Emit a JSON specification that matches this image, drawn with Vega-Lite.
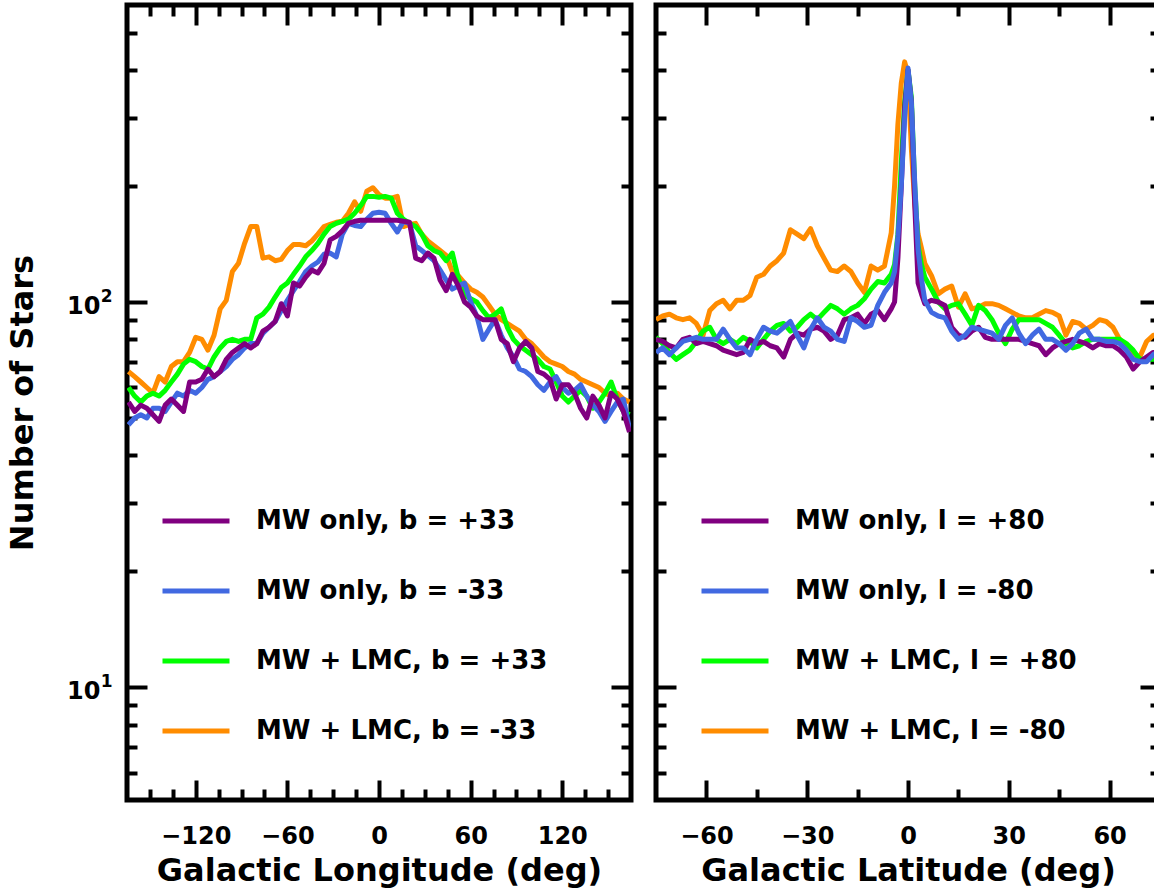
{
  "$schema": "https://vega.github.io/schema/vega-lite/v6.json",
  "background": "white",
  "padding": {"left": 4, "top": 0, "right": -8, "bottom": 0},
  "spacing": 14,
  "config": {
    "font": "DejaVu Sans",
    "view": {"stroke": "black", "strokeWidth": 5},
    "axis": {
      "domain": false, "grid": false,
      "labelFont": "DejaVu Sans", "labelFontWeight": "bold", "labelFontSize": 24, "labelColor": "black",
      "titleFont": "DejaVu Sans", "titleFontWeight": "bold", "titleFontSize": 32, "titleColor": "black",
      "tickColor": "black", "tickWidth": 4, "labelOverlap": false, "labelFlush": false
    },
    "legend": {
      "labelFont": "DejaVu Sans", "labelFontWeight": "bold", "labelFontSize": 26, "labelColor": "black",
      "symbolType": "stroke", "symbolSize": 4489, "symbolStrokeWidth": 5, "labelOffset": 24,
      "rowPadding": 21, "padding": 0, "labelLimit": 500
    }
  },
  "resolve": {"scale": {"color": "independent"}, "legend": {"color": "independent"}},
  "hconcat": [
    {
      "width": 504, "height": 795,
      "data": {"values": [
{"x":-164,"n":66,"s":"MW + LMC, b = -33"},{"x":-160,"n":64,"s":"MW + LMC, b = -33"},{"x":-156,"n":62,"s":"MW + LMC, b = -33"},{"x":-152,"n":60,"s":"MW + LMC, b = -33"},{"x":-148,"n":58,"s":"MW + LMC, b = -33"},{"x":-144,"n":64,"s":"MW + LMC, b = -33"},{"x":-140,"n":62,"s":"MW + LMC, b = -33"},{"x":-136,"n":68,"s":"MW + LMC, b = -33"},{"x":-132,"n":70,"s":"MW + LMC, b = -33"},{"x":-128,"n":70,"s":"MW + LMC, b = -33"},
{"x":-124,"n":74,"s":"MW + LMC, b = -33"},{"x":-120,"n":81,"s":"MW + LMC, b = -33"},{"x":-116,"n":80,"s":"MW + LMC, b = -33"},{"x":-112,"n":75,"s":"MW + LMC, b = -33"},{"x":-108,"n":82,"s":"MW + LMC, b = -33"},{"x":-104,"n":96,"s":"MW + LMC, b = -33"},{"x":-100,"n":101,"s":"MW + LMC, b = -33"},{"x":-96,"n":120,"s":"MW + LMC, b = -33"},{"x":-92,"n":126,"s":"MW + LMC, b = -33"},{"x":-88,"n":142,"s":"MW + LMC, b = -33"},
{"x":-84,"n":157,"s":"MW + LMC, b = -33"},{"x":-80,"n":157,"s":"MW + LMC, b = -33"},{"x":-76,"n":130,"s":"MW + LMC, b = -33"},{"x":-72,"n":131,"s":"MW + LMC, b = -33"},{"x":-68,"n":128,"s":"MW + LMC, b = -33"},{"x":-64,"n":129,"s":"MW + LMC, b = -33"},{"x":-60,"n":136,"s":"MW + LMC, b = -33"},{"x":-56,"n":141,"s":"MW + LMC, b = -33"},{"x":-52,"n":141,"s":"MW + LMC, b = -33"},{"x":-48,"n":140,"s":"MW + LMC, b = -33"},
{"x":-44,"n":144,"s":"MW + LMC, b = -33"},{"x":-40,"n":150,"s":"MW + LMC, b = -33"},{"x":-36,"n":157,"s":"MW + LMC, b = -33"},{"x":-32,"n":159,"s":"MW + LMC, b = -33"},{"x":-28,"n":161,"s":"MW + LMC, b = -33"},{"x":-24,"n":162,"s":"MW + LMC, b = -33"},{"x":-20,"n":170,"s":"MW + LMC, b = -33"},{"x":-16,"n":182,"s":"MW + LMC, b = -33"},{"x":-12,"n":172,"s":"MW + LMC, b = -33"},{"x":-8,"n":194,"s":"MW + LMC, b = -33"},
{"x":-4,"n":198,"s":"MW + LMC, b = -33"},{"x":0,"n":190,"s":"MW + LMC, b = -33"},{"x":4,"n":186,"s":"MW + LMC, b = -33"},{"x":8,"n":186,"s":"MW + LMC, b = -33"},{"x":12,"n":188,"s":"MW + LMC, b = -33"},{"x":16,"n":157,"s":"MW + LMC, b = -33"},{"x":20,"n":159,"s":"MW + LMC, b = -33"},{"x":24,"n":160,"s":"MW + LMC, b = -33"},{"x":28,"n":150,"s":"MW + LMC, b = -33"},{"x":32,"n":144,"s":"MW + LMC, b = -33"},
{"x":36,"n":140,"s":"MW + LMC, b = -33"},{"x":40,"n":136,"s":"MW + LMC, b = -33"},{"x":44,"n":132,"s":"MW + LMC, b = -33"},{"x":48,"n":120,"s":"MW + LMC, b = -33"},{"x":52,"n":117,"s":"MW + LMC, b = -33"},{"x":56,"n":112,"s":"MW + LMC, b = -33"},{"x":60,"n":108,"s":"MW + LMC, b = -33"},{"x":64,"n":106,"s":"MW + LMC, b = -33"},{"x":68,"n":103,"s":"MW + LMC, b = -33"},{"x":72,"n":98,"s":"MW + LMC, b = -33"},
{"x":76,"n":93,"s":"MW + LMC, b = -33"},{"x":80,"n":90,"s":"MW + LMC, b = -33"},{"x":84,"n":88,"s":"MW + LMC, b = -33"},{"x":88,"n":86,"s":"MW + LMC, b = -33"},{"x":92,"n":84,"s":"MW + LMC, b = -33"},{"x":96,"n":80,"s":"MW + LMC, b = -33"},{"x":100,"n":78,"s":"MW + LMC, b = -33"},{"x":104,"n":75,"s":"MW + LMC, b = -33"},{"x":108,"n":72,"s":"MW + LMC, b = -33"},{"x":112,"n":70,"s":"MW + LMC, b = -33"},
{"x":116,"n":69,"s":"MW + LMC, b = -33"},{"x":120,"n":68,"s":"MW + LMC, b = -33"},{"x":124,"n":66,"s":"MW + LMC, b = -33"},{"x":128,"n":65,"s":"MW + LMC, b = -33"},{"x":132,"n":63,"s":"MW + LMC, b = -33"},{"x":136,"n":62,"s":"MW + LMC, b = -33"},{"x":140,"n":61,"s":"MW + LMC, b = -33"},{"x":144,"n":60,"s":"MW + LMC, b = -33"},{"x":148,"n":58,"s":"MW + LMC, b = -33"},{"x":152,"n":57,"s":"MW + LMC, b = -33"},
{"x":156,"n":58,"s":"MW + LMC, b = -33"},{"x":160,"n":56,"s":"MW + LMC, b = -33"},{"x":164,"n":55,"s":"MW + LMC, b = -33"},

{"x":-164,"n":60,"s":"MW + LMC, b = +33"},{"x":-160,"n":57,"s":"MW + LMC, b = +33"},{"x":-156,"n":55,"s":"MW + LMC, b = +33"},{"x":-152,"n":57,"s":"MW + LMC, b = +33"},{"x":-148,"n":58,"s":"MW + LMC, b = +33"},{"x":-144,"n":57,"s":"MW + LMC, b = +33"},{"x":-140,"n":59,"s":"MW + LMC, b = +33"},{"x":-136,"n":62,"s":"MW + LMC, b = +33"},{"x":-132,"n":65,"s":"MW + LMC, b = +33"},{"x":-128,"n":69,"s":"MW + LMC, b = +33"},
{"x":-124,"n":71,"s":"MW + LMC, b = +33"},{"x":-120,"n":70,"s":"MW + LMC, b = +33"},{"x":-116,"n":68,"s":"MW + LMC, b = +33"},{"x":-112,"n":67,"s":"MW + LMC, b = +33"},{"x":-108,"n":72,"s":"MW + LMC, b = +33"},{"x":-104,"n":76,"s":"MW + LMC, b = +33"},{"x":-100,"n":79,"s":"MW + LMC, b = +33"},{"x":-96,"n":80,"s":"MW + LMC, b = +33"},{"x":-92,"n":79,"s":"MW + LMC, b = +33"},{"x":-88,"n":80,"s":"MW + LMC, b = +33"},
{"x":-84,"n":80,"s":"MW + LMC, b = +33"},{"x":-80,"n":91,"s":"MW + LMC, b = +33"},{"x":-76,"n":93,"s":"MW + LMC, b = +33"},{"x":-72,"n":97,"s":"MW + LMC, b = +33"},{"x":-68,"n":103,"s":"MW + LMC, b = +33"},{"x":-64,"n":109,"s":"MW + LMC, b = +33"},{"x":-60,"n":112,"s":"MW + LMC, b = +33"},{"x":-56,"n":118,"s":"MW + LMC, b = +33"},{"x":-52,"n":124,"s":"MW + LMC, b = +33"},{"x":-48,"n":131,"s":"MW + LMC, b = +33"},
{"x":-44,"n":136,"s":"MW + LMC, b = +33"},{"x":-40,"n":142,"s":"MW + LMC, b = +33"},{"x":-36,"n":150,"s":"MW + LMC, b = +33"},{"x":-32,"n":157,"s":"MW + LMC, b = +33"},{"x":-28,"n":160,"s":"MW + LMC, b = +33"},{"x":-24,"n":162,"s":"MW + LMC, b = +33"},{"x":-20,"n":164,"s":"MW + LMC, b = +33"},{"x":-16,"n":170,"s":"MW + LMC, b = +33"},{"x":-12,"n":178,"s":"MW + LMC, b = +33"},{"x":-8,"n":188,"s":"MW + LMC, b = +33"},
{"x":-4,"n":188,"s":"MW + LMC, b = +33"},{"x":0,"n":187,"s":"MW + LMC, b = +33"},{"x":4,"n":188,"s":"MW + LMC, b = +33"},{"x":8,"n":186,"s":"MW + LMC, b = +33"},{"x":12,"n":170,"s":"MW + LMC, b = +33"},{"x":16,"n":164,"s":"MW + LMC, b = +33"},{"x":20,"n":160,"s":"MW + LMC, b = +33"},{"x":24,"n":157,"s":"MW + LMC, b = +33"},{"x":28,"n":150,"s":"MW + LMC, b = +33"},{"x":32,"n":140,"s":"MW + LMC, b = +33"},
{"x":36,"n":136,"s":"MW + LMC, b = +33"},{"x":40,"n":134,"s":"MW + LMC, b = +33"},{"x":44,"n":128,"s":"MW + LMC, b = +33"},{"x":48,"n":134,"s":"MW + LMC, b = +33"},{"x":52,"n":115,"s":"MW + LMC, b = +33"},{"x":56,"n":104,"s":"MW + LMC, b = +33"},{"x":60,"n":102,"s":"MW + LMC, b = +33"},{"x":64,"n":100,"s":"MW + LMC, b = +33"},{"x":68,"n":95,"s":"MW + LMC, b = +33"},{"x":72,"n":91,"s":"MW + LMC, b = +33"},
{"x":76,"n":93,"s":"MW + LMC, b = +33"},{"x":80,"n":96,"s":"MW + LMC, b = +33"},{"x":84,"n":86,"s":"MW + LMC, b = +33"},{"x":88,"n":80,"s":"MW + LMC, b = +33"},{"x":92,"n":77,"s":"MW + LMC, b = +33"},{"x":96,"n":75,"s":"MW + LMC, b = +33"},{"x":100,"n":73,"s":"MW + LMC, b = +33"},{"x":104,"n":71,"s":"MW + LMC, b = +33"},{"x":108,"n":68,"s":"MW + LMC, b = +33"},{"x":112,"n":67,"s":"MW + LMC, b = +33"},
{"x":116,"n":62,"s":"MW + LMC, b = +33"},{"x":120,"n":57,"s":"MW + LMC, b = +33"},{"x":124,"n":55,"s":"MW + LMC, b = +33"},{"x":128,"n":57,"s":"MW + LMC, b = +33"},{"x":132,"n":59,"s":"MW + LMC, b = +33"},{"x":136,"n":57,"s":"MW + LMC, b = +33"},{"x":140,"n":53,"s":"MW + LMC, b = +33"},{"x":144,"n":55,"s":"MW + LMC, b = +33"},{"x":148,"n":58,"s":"MW + LMC, b = +33"},{"x":152,"n":62,"s":"MW + LMC, b = +33"},
{"x":156,"n":56,"s":"MW + LMC, b = +33"},{"x":160,"n":52,"s":"MW + LMC, b = +33"},{"x":164,"n":51,"s":"MW + LMC, b = +33"},

{"x":-164,"n":48,"s":"MW only, b = -33"},{"x":-160,"n":50,"s":"MW only, b = -33"},{"x":-156,"n":51,"s":"MW only, b = -33"},{"x":-152,"n":50,"s":"MW only, b = -33"},{"x":-148,"n":53,"s":"MW only, b = -33"},{"x":-144,"n":53,"s":"MW only, b = -33"},{"x":-140,"n":52,"s":"MW only, b = -33"},{"x":-136,"n":55,"s":"MW only, b = -33"},{"x":-132,"n":58,"s":"MW only, b = -33"},{"x":-128,"n":57,"s":"MW only, b = -33"},
{"x":-124,"n":59,"s":"MW only, b = -33"},{"x":-120,"n":58,"s":"MW only, b = -33"},{"x":-116,"n":60,"s":"MW only, b = -33"},{"x":-112,"n":63,"s":"MW only, b = -33"},{"x":-108,"n":64,"s":"MW only, b = -33"},{"x":-104,"n":66,"s":"MW only, b = -33"},{"x":-100,"n":68,"s":"MW only, b = -33"},{"x":-96,"n":71,"s":"MW only, b = -33"},{"x":-92,"n":73,"s":"MW only, b = -33"},{"x":-88,"n":76,"s":"MW only, b = -33"},
{"x":-84,"n":78,"s":"MW only, b = -33"},{"x":-80,"n":78,"s":"MW only, b = -33"},{"x":-76,"n":83,"s":"MW only, b = -33"},{"x":-72,"n":86,"s":"MW only, b = -33"},{"x":-68,"n":89,"s":"MW only, b = -33"},{"x":-64,"n":95,"s":"MW only, b = -33"},{"x":-60,"n":101,"s":"MW only, b = -33"},{"x":-56,"n":107,"s":"MW only, b = -33"},{"x":-52,"n":113,"s":"MW only, b = -33"},{"x":-48,"n":120,"s":"MW only, b = -33"},
{"x":-44,"n":124,"s":"MW only, b = -33"},{"x":-40,"n":127,"s":"MW only, b = -33"},{"x":-36,"n":133,"s":"MW only, b = -33"},{"x":-32,"n":134,"s":"MW only, b = -33"},{"x":-28,"n":131,"s":"MW only, b = -33"},{"x":-24,"n":150,"s":"MW only, b = -33"},{"x":-20,"n":160,"s":"MW only, b = -33"},{"x":-16,"n":158,"s":"MW only, b = -33"},{"x":-12,"n":157,"s":"MW only, b = -33"},{"x":-8,"n":164,"s":"MW only, b = -33"},
{"x":-4,"n":170,"s":"MW only, b = -33"},{"x":0,"n":171,"s":"MW only, b = -33"},{"x":4,"n":170,"s":"MW only, b = -33"},{"x":8,"n":160,"s":"MW only, b = -33"},{"x":12,"n":152,"s":"MW only, b = -33"},{"x":16,"n":162,"s":"MW only, b = -33"},{"x":20,"n":160,"s":"MW only, b = -33"},{"x":24,"n":140,"s":"MW only, b = -33"},{"x":28,"n":136,"s":"MW only, b = -33"},{"x":32,"n":132,"s":"MW only, b = -33"},
{"x":36,"n":128,"s":"MW only, b = -33"},{"x":40,"n":121,"s":"MW only, b = -33"},{"x":44,"n":114,"s":"MW only, b = -33"},{"x":48,"n":108,"s":"MW only, b = -33"},{"x":52,"n":110,"s":"MW only, b = -33"},{"x":56,"n":112,"s":"MW only, b = -33"},{"x":60,"n":100,"s":"MW only, b = -33"},{"x":64,"n":92,"s":"MW only, b = -33"},{"x":68,"n":80,"s":"MW only, b = -33"},{"x":72,"n":85,"s":"MW only, b = -33"},
{"x":76,"n":90,"s":"MW only, b = -33"},{"x":80,"n":82,"s":"MW only, b = -33"},{"x":84,"n":76,"s":"MW only, b = -33"},{"x":88,"n":72,"s":"MW only, b = -33"},{"x":92,"n":67,"s":"MW only, b = -33"},{"x":96,"n":66,"s":"MW only, b = -33"},{"x":100,"n":64,"s":"MW only, b = -33"},{"x":104,"n":61,"s":"MW only, b = -33"},{"x":108,"n":59,"s":"MW only, b = -33"},{"x":112,"n":62,"s":"MW only, b = -33"},
{"x":116,"n":64,"s":"MW only, b = -33"},{"x":120,"n":60,"s":"MW only, b = -33"},{"x":124,"n":58,"s":"MW only, b = -33"},{"x":128,"n":59,"s":"MW only, b = -33"},{"x":132,"n":61,"s":"MW only, b = -33"},{"x":136,"n":57,"s":"MW only, b = -33"},{"x":140,"n":54,"s":"MW only, b = -33"},{"x":144,"n":52,"s":"MW only, b = -33"},{"x":148,"n":49,"s":"MW only, b = -33"},{"x":152,"n":52,"s":"MW only, b = -33"},
{"x":156,"n":55,"s":"MW only, b = -33"},{"x":160,"n":56,"s":"MW only, b = -33"},{"x":164,"n":47,"s":"MW only, b = -33"},

{"x":-164,"n":55,"s":"MW only, b = +33"},{"x":-160,"n":52,"s":"MW only, b = +33"},{"x":-156,"n":54,"s":"MW only, b = +33"},{"x":-152,"n":53,"s":"MW only, b = +33"},{"x":-148,"n":51,"s":"MW only, b = +33"},{"x":-144,"n":49,"s":"MW only, b = +33"},{"x":-140,"n":54,"s":"MW only, b = +33"},{"x":-136,"n":56,"s":"MW only, b = +33"},{"x":-132,"n":54,"s":"MW only, b = +33"},{"x":-128,"n":52,"s":"MW only, b = +33"},
{"x":-124,"n":62,"s":"MW only, b = +33"},{"x":-120,"n":62,"s":"MW only, b = +33"},{"x":-116,"n":63,"s":"MW only, b = +33"},{"x":-112,"n":67,"s":"MW only, b = +33"},{"x":-108,"n":64,"s":"MW only, b = +33"},{"x":-104,"n":66,"s":"MW only, b = +33"},{"x":-100,"n":71,"s":"MW only, b = +33"},{"x":-96,"n":74,"s":"MW only, b = +33"},{"x":-92,"n":76,"s":"MW only, b = +33"},{"x":-88,"n":78,"s":"MW only, b = +33"},
{"x":-84,"n":76,"s":"MW only, b = +33"},{"x":-80,"n":78,"s":"MW only, b = +33"},{"x":-76,"n":84,"s":"MW only, b = +33"},{"x":-72,"n":86,"s":"MW only, b = +33"},{"x":-68,"n":89,"s":"MW only, b = +33"},{"x":-64,"n":99,"s":"MW only, b = +33"},{"x":-60,"n":92,"s":"MW only, b = +33"},{"x":-56,"n":112,"s":"MW only, b = +33"},{"x":-52,"n":110,"s":"MW only, b = +33"},{"x":-48,"n":116,"s":"MW only, b = +33"},
{"x":-44,"n":121,"s":"MW only, b = +33"},{"x":-40,"n":119,"s":"MW only, b = +33"},{"x":-36,"n":126,"s":"MW only, b = +33"},{"x":-32,"n":145,"s":"MW only, b = +33"},{"x":-28,"n":148,"s":"MW only, b = +33"},{"x":-24,"n":153,"s":"MW only, b = +33"},{"x":-20,"n":160,"s":"MW only, b = +33"},{"x":-16,"n":162,"s":"MW only, b = +33"},{"x":-12,"n":163,"s":"MW only, b = +33"},{"x":-8,"n":163,"s":"MW only, b = +33"},
{"x":-4,"n":163,"s":"MW only, b = +33"},{"x":0,"n":163,"s":"MW only, b = +33"},{"x":4,"n":163,"s":"MW only, b = +33"},{"x":8,"n":163,"s":"MW only, b = +33"},{"x":12,"n":163,"s":"MW only, b = +33"},{"x":16,"n":162,"s":"MW only, b = +33"},{"x":20,"n":161,"s":"MW only, b = +33"},{"x":24,"n":130,"s":"MW only, b = +33"},{"x":28,"n":128,"s":"MW only, b = +33"},{"x":32,"n":134,"s":"MW only, b = +33"},
{"x":36,"n":130,"s":"MW only, b = +33"},{"x":40,"n":114,"s":"MW only, b = +33"},{"x":44,"n":107,"s":"MW only, b = +33"},{"x":48,"n":118,"s":"MW only, b = +33"},{"x":52,"n":110,"s":"MW only, b = +33"},{"x":56,"n":100,"s":"MW only, b = +33"},{"x":60,"n":97,"s":"MW only, b = +33"},{"x":64,"n":92,"s":"MW only, b = +33"},{"x":68,"n":90,"s":"MW only, b = +33"},{"x":72,"n":90,"s":"MW only, b = +33"},
{"x":76,"n":90,"s":"MW only, b = +33"},{"x":80,"n":80,"s":"MW only, b = +33"},{"x":84,"n":78,"s":"MW only, b = +33"},{"x":88,"n":70,"s":"MW only, b = +33"},{"x":92,"n":76,"s":"MW only, b = +33"},{"x":96,"n":79,"s":"MW only, b = +33"},{"x":100,"n":76,"s":"MW only, b = +33"},{"x":104,"n":66,"s":"MW only, b = +33"},{"x":108,"n":65,"s":"MW only, b = +33"},{"x":112,"n":63,"s":"MW only, b = +33"},
{"x":116,"n":56,"s":"MW only, b = +33"},{"x":120,"n":61,"s":"MW only, b = +33"},{"x":124,"n":61,"s":"MW only, b = +33"},{"x":128,"n":58,"s":"MW only, b = +33"},{"x":132,"n":53,"s":"MW only, b = +33"},{"x":136,"n":50,"s":"MW only, b = +33"},{"x":140,"n":57,"s":"MW only, b = +33"},{"x":144,"n":54,"s":"MW only, b = +33"},{"x":148,"n":50,"s":"MW only, b = +33"},{"x":152,"n":58,"s":"MW only, b = +33"},
{"x":156,"n":56,"s":"MW only, b = +33"},{"x":160,"n":52,"s":"MW only, b = +33"},{"x":164,"n":46,"s":"MW only, b = +33"}
      ]},
      "layer": [
        {
          "mark": {"type": "line", "strokeWidth": 5, "strokeJoin": "round", "clip": true},
          "encoding": {
            "x": {"field": "x", "type": "quantitative",
              "scale": {"domain": [-165, 165], "nice": false, "zero": false},
              "axis": {"orient": "bottom", "title": "Galactic Longitude (deg)",
                "values": [-150,-135,-120,-105,-90,-75,-60,-45,-30,-15,0,15,30,45,60,75,90,105,120,135,150],
                "labelExpr": "datum.value % 60 === 0 ? datum.label : ''",
                "tickSize": {"condition": {"test": "datum.value % 60 === 0", "value": -20}, "value": -11},
                "labelPadding": 44, "titlePadding": -2}},
            "y": {"field": "n", "type": "quantitative",
              "scale": {"type": "log", "domain": [5.1, 590], "nice": false},
              "axis": {"orient": "left", "title": "Number of Stars",
                "values": [6,7,8,9,10,20,30,40,50,60,70,80,90,100,200,300,400,500],
                "labelExpr": "datum.value === 10 || datum.value === 100 ? '10' : ''",
                "tickSize": {"condition": {"test": "datum.value === 10 || datum.value === 100", "value": -20}, "value": -10},
                "labelPadding": 47, "labelOffset": 4, "titlePadding": 27}},
            "color": {"field": "s", "type": "nominal",
              "scale": {"domain": ["MW only, b = +33", "MW only, b = -33", "MW + LMC, b = +33", "MW + LMC, b = -33"],
                        "range": ["#800080", "#4169E1", "#00FF00", "#FF8C00"]},
              "legend": {"orient": "none", "legendX": 33, "legendY": 480, "title": null}}
          }
        },
        {
          "mark": {"type": "point", "opacity": 0},
          "encoding": {
            "x": {"field": "x", "type": "quantitative",
              "axis": {"orient": "top", "title": null, "labels": false,
                "values": [-150,-135,-120,-105,-90,-75,-60,-45,-30,-15,0,15,30,45,60,75,90,105,120,135,150],
                "tickSize": {"condition": {"test": "datum.value % 60 === 0", "value": -20}, "value": -11}}},
            "y": {"field": "n", "type": "quantitative",
              "axis": {"orient": "right", "title": null, "labels": false,
                "values": [6,7,8,9,10,20,30,40,50,60,70,80,90,100,200,300,400,500],
                "tickSize": {"condition": {"test": "datum.value === 10 || datum.value === 100", "value": -20}, "value": -10}}}
          }
        },
        {
          "mark": {"type": "point", "opacity": 0},
          "encoding": {
            "x": {"field": "x", "type": "quantitative", "axis": null},
            "y": {"field": "n", "type": "quantitative",
              "axis": {"orient": "left", "title": null, "ticks": false,
                "values": [10, 100],
                "labelExpr": "datum.value === 10 ? '1' : '2'",
                "labelFontSize": 17, "labelPadding": 15, "labelOffset": -6}}
          }
        }
      ],
      "resolve": {"axis": {"x": "independent", "y": "independent"}}
    },
    {
      "width": 504, "height": 795,
      "data": {"values": [
{"x":-75,"n":90,"s":"MW + LMC, l = -80"},{"x":-73,"n":92,"s":"MW + LMC, l = -80"},{"x":-71,"n":93,"s":"MW + LMC, l = -80"},{"x":-69,"n":91,"s":"MW + LMC, l = -80"},{"x":-67,"n":90,"s":"MW + LMC, l = -80"},{"x":-65,"n":91,"s":"MW + LMC, l = -80"},{"x":-63,"n":88,"s":"MW + LMC, l = -80"},{"x":-61,"n":82,"s":"MW + LMC, l = -80"},{"x":-59,"n":95,"s":"MW + LMC, l = -80"},{"x":-57,"n":99,"s":"MW + LMC, l = -80"},
{"x":-55,"n":101,"s":"MW + LMC, l = -80"},{"x":-53,"n":96,"s":"MW + LMC, l = -80"},{"x":-51,"n":101,"s":"MW + LMC, l = -80"},{"x":-49,"n":101,"s":"MW + LMC, l = -80"},{"x":-47,"n":104,"s":"MW + LMC, l = -80"},{"x":-45,"n":116,"s":"MW + LMC, l = -80"},{"x":-43,"n":118,"s":"MW + LMC, l = -80"},{"x":-41,"n":124,"s":"MW + LMC, l = -80"},{"x":-39,"n":128,"s":"MW + LMC, l = -80"},{"x":-37,"n":134,"s":"MW + LMC, l = -80"},
{"x":-35,"n":154,"s":"MW + LMC, l = -80"},{"x":-33,"n":150,"s":"MW + LMC, l = -80"},{"x":-31,"n":146,"s":"MW + LMC, l = -80"},{"x":-29,"n":155,"s":"MW + LMC, l = -80"},{"x":-27,"n":140,"s":"MW + LMC, l = -80"},{"x":-25,"n":130,"s":"MW + LMC, l = -80"},{"x":-23,"n":121,"s":"MW + LMC, l = -80"},{"x":-21,"n":120,"s":"MW + LMC, l = -80"},{"x":-19,"n":124,"s":"MW + LMC, l = -80"},{"x":-17,"n":120,"s":"MW + LMC, l = -80"},
{"x":-15,"n":112,"s":"MW + LMC, l = -80"},{"x":-13,"n":106,"s":"MW + LMC, l = -80"},{"x":-11,"n":124,"s":"MW + LMC, l = -80"},{"x":-9,"n":121,"s":"MW + LMC, l = -80"},{"x":-7,"n":124,"s":"MW + LMC, l = -80"},{"x":-5,"n":151,"s":"MW + LMC, l = -80"},
{"x":-4,"n":200,"s":"MW + LMC, l = -80"},{"x":-3,"n":290,"s":"MW + LMC, l = -80"},{"x":-2,"n":370,"s":"MW + LMC, l = -80"},{"x":-1,"n":420,"s":"MW + LMC, l = -80"},{"x":0,"n":390,"s":"MW + LMC, l = -80"},{"x":1,"n":250,"s":"MW + LMC, l = -80"},{"x":2,"n":180,"s":"MW + LMC, l = -80"},{"x":3,"n":150,"s":"MW + LMC, l = -80"},{"x":4,"n":138,"s":"MW + LMC, l = -80"},
{"x":5,"n":126,"s":"MW + LMC, l = -80"},{"x":7,"n":117,"s":"MW + LMC, l = -80"},{"x":9,"n":105,"s":"MW + LMC, l = -80"},{"x":11,"n":108,"s":"MW + LMC, l = -80"},{"x":13,"n":110,"s":"MW + LMC, l = -80"},{"x":15,"n":97,"s":"MW + LMC, l = -80"},{"x":17,"n":105,"s":"MW + LMC, l = -80"},{"x":19,"n":96,"s":"MW + LMC, l = -80"},{"x":21,"n":97,"s":"MW + LMC, l = -80"},{"x":23,"n":99,"s":"MW + LMC, l = -80"},
{"x":25,"n":99,"s":"MW + LMC, l = -80"},{"x":27,"n":98,"s":"MW + LMC, l = -80"},{"x":29,"n":96,"s":"MW + LMC, l = -80"},{"x":31,"n":94,"s":"MW + LMC, l = -80"},{"x":33,"n":92,"s":"MW + LMC, l = -80"},{"x":35,"n":91,"s":"MW + LMC, l = -80"},{"x":37,"n":91,"s":"MW + LMC, l = -80"},{"x":39,"n":93,"s":"MW + LMC, l = -80"},{"x":41,"n":95,"s":"MW + LMC, l = -80"},{"x":43,"n":94,"s":"MW + LMC, l = -80"},
{"x":45,"n":92,"s":"MW + LMC, l = -80"},{"x":47,"n":82,"s":"MW + LMC, l = -80"},{"x":49,"n":89,"s":"MW + LMC, l = -80"},{"x":51,"n":88,"s":"MW + LMC, l = -80"},{"x":53,"n":85,"s":"MW + LMC, l = -80"},{"x":55,"n":87,"s":"MW + LMC, l = -80"},{"x":57,"n":90,"s":"MW + LMC, l = -80"},{"x":59,"n":89,"s":"MW + LMC, l = -80"},{"x":61,"n":86,"s":"MW + LMC, l = -80"},{"x":63,"n":80,"s":"MW + LMC, l = -80"},
{"x":65,"n":76,"s":"MW + LMC, l = -80"},{"x":67,"n":73,"s":"MW + LMC, l = -80"},{"x":69,"n":72,"s":"MW + LMC, l = -80"},{"x":71,"n":79,"s":"MW + LMC, l = -80"},{"x":73,"n":82,"s":"MW + LMC, l = -80"},{"x":75,"n":82,"s":"MW + LMC, l = -80"},

{"x":-75,"n":81,"s":"MW + LMC, l = +80"},{"x":-73,"n":78,"s":"MW + LMC, l = +80"},{"x":-71,"n":74,"s":"MW + LMC, l = +80"},{"x":-69,"n":71,"s":"MW + LMC, l = +80"},{"x":-67,"n":73,"s":"MW + LMC, l = +80"},{"x":-65,"n":75,"s":"MW + LMC, l = +80"},{"x":-63,"n":79,"s":"MW + LMC, l = +80"},{"x":-61,"n":84,"s":"MW + LMC, l = +80"},{"x":-59,"n":86,"s":"MW + LMC, l = +80"},{"x":-57,"n":80,"s":"MW + LMC, l = +80"},
{"x":-55,"n":78,"s":"MW + LMC, l = +80"},{"x":-53,"n":80,"s":"MW + LMC, l = +80"},{"x":-51,"n":78,"s":"MW + LMC, l = +80"},{"x":-49,"n":81,"s":"MW + LMC, l = +80"},{"x":-47,"n":79,"s":"MW + LMC, l = +80"},{"x":-45,"n":76,"s":"MW + LMC, l = +80"},{"x":-43,"n":80,"s":"MW + LMC, l = +80"},{"x":-41,"n":84,"s":"MW + LMC, l = +80"},{"x":-39,"n":87,"s":"MW + LMC, l = +80"},{"x":-37,"n":88,"s":"MW + LMC, l = +80"},
{"x":-35,"n":84,"s":"MW + LMC, l = +80"},{"x":-33,"n":86,"s":"MW + LMC, l = +80"},{"x":-31,"n":90,"s":"MW + LMC, l = +80"},{"x":-29,"n":93,"s":"MW + LMC, l = +80"},{"x":-27,"n":90,"s":"MW + LMC, l = +80"},{"x":-25,"n":94,"s":"MW + LMC, l = +80"},{"x":-23,"n":98,"s":"MW + LMC, l = +80"},{"x":-21,"n":96,"s":"MW + LMC, l = +80"},{"x":-19,"n":93,"s":"MW + LMC, l = +80"},{"x":-17,"n":96,"s":"MW + LMC, l = +80"},
{"x":-15,"n":98,"s":"MW + LMC, l = +80"},{"x":-13,"n":102,"s":"MW + LMC, l = +80"},{"x":-11,"n":108,"s":"MW + LMC, l = +80"},{"x":-9,"n":113,"s":"MW + LMC, l = +80"},{"x":-7,"n":112,"s":"MW + LMC, l = +80"},{"x":-5,"n":118,"s":"MW + LMC, l = +80"},
{"x":-4,"n":125,"s":"MW + LMC, l = +80"},{"x":-3,"n":150,"s":"MW + LMC, l = +80"},{"x":-2,"n":230,"s":"MW + LMC, l = +80"},{"x":-1,"n":330,"s":"MW + LMC, l = +80"},{"x":0,"n":400,"s":"MW + LMC, l = +80"},{"x":1,"n":340,"s":"MW + LMC, l = +80"},{"x":2,"n":200,"s":"MW + LMC, l = +80"},{"x":3,"n":140,"s":"MW + LMC, l = +80"},{"x":4,"n":125,"s":"MW + LMC, l = +80"},
{"x":5,"n":116,"s":"MW + LMC, l = +80"},{"x":7,"n":108,"s":"MW + LMC, l = +80"},{"x":9,"n":100,"s":"MW + LMC, l = +80"},{"x":11,"n":96,"s":"MW + LMC, l = +80"},{"x":13,"n":98,"s":"MW + LMC, l = +80"},{"x":15,"n":99,"s":"MW + LMC, l = +80"},{"x":17,"n":93,"s":"MW + LMC, l = +80"},{"x":19,"n":87,"s":"MW + LMC, l = +80"},{"x":21,"n":98,"s":"MW + LMC, l = +80"},{"x":23,"n":95,"s":"MW + LMC, l = +80"},
{"x":25,"n":90,"s":"MW + LMC, l = +80"},{"x":27,"n":83,"s":"MW + LMC, l = +80"},{"x":29,"n":78,"s":"MW + LMC, l = +80"},{"x":31,"n":85,"s":"MW + LMC, l = +80"},{"x":33,"n":90,"s":"MW + LMC, l = +80"},{"x":35,"n":90,"s":"MW + LMC, l = +80"},{"x":37,"n":90,"s":"MW + LMC, l = +80"},{"x":39,"n":90,"s":"MW + LMC, l = +80"},{"x":41,"n":88,"s":"MW + LMC, l = +80"},{"x":43,"n":86,"s":"MW + LMC, l = +80"},
{"x":45,"n":82,"s":"MW + LMC, l = +80"},{"x":47,"n":78,"s":"MW + LMC, l = +80"},{"x":49,"n":76,"s":"MW + LMC, l = +80"},{"x":51,"n":77,"s":"MW + LMC, l = +80"},{"x":53,"n":79,"s":"MW + LMC, l = +80"},{"x":55,"n":80,"s":"MW + LMC, l = +80"},{"x":57,"n":80,"s":"MW + LMC, l = +80"},{"x":59,"n":80,"s":"MW + LMC, l = +80"},{"x":61,"n":80,"s":"MW + LMC, l = +80"},{"x":63,"n":80,"s":"MW + LMC, l = +80"},
{"x":65,"n":78,"s":"MW + LMC, l = +80"},{"x":67,"n":75,"s":"MW + LMC, l = +80"},{"x":69,"n":71,"s":"MW + LMC, l = +80"},{"x":71,"n":71,"s":"MW + LMC, l = +80"},{"x":73,"n":71,"s":"MW + LMC, l = +80"},{"x":75,"n":72,"s":"MW + LMC, l = +80"},

{"x":-75,"n":80,"s":"MW only, l = +80"},{"x":-73,"n":79,"s":"MW only, l = +80"},{"x":-71,"n":77,"s":"MW only, l = +80"},{"x":-69,"n":76,"s":"MW only, l = +80"},{"x":-67,"n":80,"s":"MW only, l = +80"},{"x":-65,"n":81,"s":"MW only, l = +80"},{"x":-63,"n":78,"s":"MW only, l = +80"},{"x":-61,"n":79,"s":"MW only, l = +80"},{"x":-59,"n":78,"s":"MW only, l = +80"},{"x":-57,"n":77,"s":"MW only, l = +80"},
{"x":-55,"n":75,"s":"MW only, l = +80"},{"x":-53,"n":74,"s":"MW only, l = +80"},{"x":-51,"n":73,"s":"MW only, l = +80"},{"x":-49,"n":74,"s":"MW only, l = +80"},{"x":-47,"n":80,"s":"MW only, l = +80"},{"x":-45,"n":78,"s":"MW only, l = +80"},{"x":-43,"n":79,"s":"MW only, l = +80"},{"x":-41,"n":77,"s":"MW only, l = +80"},{"x":-39,"n":76,"s":"MW only, l = +80"},{"x":-37,"n":72,"s":"MW only, l = +80"},
{"x":-35,"n":80,"s":"MW only, l = +80"},{"x":-33,"n":83,"s":"MW only, l = +80"},{"x":-31,"n":82,"s":"MW only, l = +80"},{"x":-29,"n":85,"s":"MW only, l = +80"},{"x":-27,"n":86,"s":"MW only, l = +80"},{"x":-25,"n":84,"s":"MW only, l = +80"},{"x":-23,"n":80,"s":"MW only, l = +80"},{"x":-21,"n":82,"s":"MW only, l = +80"},{"x":-19,"n":90,"s":"MW only, l = +80"},{"x":-17,"n":91,"s":"MW only, l = +80"},
{"x":-15,"n":93,"s":"MW only, l = +80"},{"x":-13,"n":88,"s":"MW only, l = +80"},{"x":-11,"n":93,"s":"MW only, l = +80"},{"x":-9,"n":95,"s":"MW only, l = +80"},{"x":-7,"n":90,"s":"MW only, l = +80"},{"x":-5,"n":96,"s":"MW only, l = +80"},
{"x":-4,"n":100,"s":"MW only, l = +80"},{"x":-3,"n":130,"s":"MW only, l = +80"},{"x":-2,"n":200,"s":"MW only, l = +80"},{"x":-1,"n":320,"s":"MW only, l = +80"},{"x":0,"n":400,"s":"MW only, l = +80"},{"x":1,"n":330,"s":"MW only, l = +80"},{"x":2,"n":180,"s":"MW only, l = +80"},{"x":3,"n":112,"s":"MW only, l = +80"},{"x":4,"n":105,"s":"MW only, l = +80"},
{"x":5,"n":99,"s":"MW only, l = +80"},{"x":7,"n":101,"s":"MW only, l = +80"},{"x":9,"n":100,"s":"MW only, l = +80"},{"x":11,"n":98,"s":"MW only, l = +80"},{"x":13,"n":86,"s":"MW only, l = +80"},{"x":15,"n":82,"s":"MW only, l = +80"},{"x":17,"n":81,"s":"MW only, l = +80"},{"x":19,"n":84,"s":"MW only, l = +80"},{"x":21,"n":86,"s":"MW only, l = +80"},{"x":23,"n":81,"s":"MW only, l = +80"},
{"x":25,"n":80,"s":"MW only, l = +80"},{"x":27,"n":80,"s":"MW only, l = +80"},{"x":29,"n":80,"s":"MW only, l = +80"},{"x":31,"n":80,"s":"MW only, l = +80"},{"x":33,"n":80,"s":"MW only, l = +80"},{"x":35,"n":79,"s":"MW only, l = +80"},{"x":37,"n":78,"s":"MW only, l = +80"},{"x":39,"n":77,"s":"MW only, l = +80"},{"x":41,"n":73,"s":"MW only, l = +80"},{"x":43,"n":76,"s":"MW only, l = +80"},
{"x":45,"n":78,"s":"MW only, l = +80"},{"x":47,"n":79,"s":"MW only, l = +80"},{"x":49,"n":80,"s":"MW only, l = +80"},{"x":51,"n":79,"s":"MW only, l = +80"},{"x":53,"n":78,"s":"MW only, l = +80"},{"x":55,"n":76,"s":"MW only, l = +80"},{"x":57,"n":78,"s":"MW only, l = +80"},{"x":59,"n":77,"s":"MW only, l = +80"},{"x":61,"n":77,"s":"MW only, l = +80"},{"x":63,"n":75,"s":"MW only, l = +80"},
{"x":65,"n":72,"s":"MW only, l = +80"},{"x":67,"n":67,"s":"MW only, l = +80"},{"x":69,"n":70,"s":"MW only, l = +80"},{"x":71,"n":72,"s":"MW only, l = +80"},{"x":73,"n":74,"s":"MW only, l = +80"},{"x":75,"n":74,"s":"MW only, l = +80"},

{"x":-75,"n":74,"s":"MW only, l = -80"},{"x":-73,"n":76,"s":"MW only, l = -80"},{"x":-71,"n":73,"s":"MW only, l = -80"},{"x":-69,"n":76,"s":"MW only, l = -80"},{"x":-67,"n":79,"s":"MW only, l = -80"},{"x":-65,"n":80,"s":"MW only, l = -80"},{"x":-63,"n":81,"s":"MW only, l = -80"},{"x":-61,"n":80,"s":"MW only, l = -80"},{"x":-59,"n":80,"s":"MW only, l = -80"},{"x":-57,"n":80,"s":"MW only, l = -80"},
{"x":-55,"n":85,"s":"MW only, l = -80"},{"x":-53,"n":80,"s":"MW only, l = -80"},{"x":-51,"n":76,"s":"MW only, l = -80"},{"x":-49,"n":76,"s":"MW only, l = -80"},{"x":-47,"n":73,"s":"MW only, l = -80"},{"x":-45,"n":80,"s":"MW only, l = -80"},{"x":-43,"n":86,"s":"MW only, l = -80"},{"x":-41,"n":84,"s":"MW only, l = -80"},{"x":-39,"n":83,"s":"MW only, l = -80"},{"x":-37,"n":86,"s":"MW only, l = -80"},
{"x":-35,"n":89,"s":"MW only, l = -80"},{"x":-33,"n":82,"s":"MW only, l = -80"},{"x":-31,"n":76,"s":"MW only, l = -80"},{"x":-29,"n":85,"s":"MW only, l = -80"},{"x":-27,"n":91,"s":"MW only, l = -80"},{"x":-25,"n":86,"s":"MW only, l = -80"},{"x":-23,"n":84,"s":"MW only, l = -80"},{"x":-21,"n":80,"s":"MW only, l = -80"},{"x":-19,"n":79,"s":"MW only, l = -80"},{"x":-17,"n":91,"s":"MW only, l = -80"},
{"x":-15,"n":89,"s":"MW only, l = -80"},{"x":-13,"n":86,"s":"MW only, l = -80"},{"x":-11,"n":87,"s":"MW only, l = -80"},{"x":-9,"n":98,"s":"MW only, l = -80"},{"x":-7,"n":106,"s":"MW only, l = -80"},{"x":-5,"n":112,"s":"MW only, l = -80"},
{"x":-4,"n":120,"s":"MW only, l = -80"},{"x":-3,"n":148,"s":"MW only, l = -80"},{"x":-2,"n":200,"s":"MW only, l = -80"},{"x":-1,"n":300,"s":"MW only, l = -80"},{"x":0,"n":405,"s":"MW only, l = -80"},{"x":1,"n":330,"s":"MW only, l = -80"},{"x":2,"n":204,"s":"MW only, l = -80"},{"x":3,"n":137,"s":"MW only, l = -80"},{"x":4,"n":115,"s":"MW only, l = -80"},
{"x":5,"n":101,"s":"MW only, l = -80"},{"x":7,"n":94,"s":"MW only, l = -80"},{"x":9,"n":92,"s":"MW only, l = -80"},{"x":11,"n":91,"s":"MW only, l = -80"},{"x":13,"n":84,"s":"MW only, l = -80"},{"x":15,"n":80,"s":"MW only, l = -80"},{"x":17,"n":82,"s":"MW only, l = -80"},{"x":19,"n":86,"s":"MW only, l = -80"},{"x":21,"n":85,"s":"MW only, l = -80"},{"x":23,"n":84,"s":"MW only, l = -80"},
{"x":25,"n":83,"s":"MW only, l = -80"},{"x":27,"n":80,"s":"MW only, l = -80"},{"x":29,"n":87,"s":"MW only, l = -80"},{"x":31,"n":91,"s":"MW only, l = -80"},{"x":33,"n":83,"s":"MW only, l = -80"},{"x":35,"n":78,"s":"MW only, l = -80"},{"x":37,"n":82,"s":"MW only, l = -80"},{"x":39,"n":85,"s":"MW only, l = -80"},{"x":41,"n":80,"s":"MW only, l = -80"},{"x":43,"n":80,"s":"MW only, l = -80"},
{"x":45,"n":78,"s":"MW only, l = -80"},{"x":47,"n":75,"s":"MW only, l = -80"},{"x":49,"n":78,"s":"MW only, l = -80"},{"x":51,"n":83,"s":"MW only, l = -80"},{"x":53,"n":85,"s":"MW only, l = -80"},{"x":55,"n":80,"s":"MW only, l = -80"},{"x":57,"n":80,"s":"MW only, l = -80"},{"x":59,"n":79,"s":"MW only, l = -80"},{"x":61,"n":79,"s":"MW only, l = -80"},{"x":63,"n":78,"s":"MW only, l = -80"},
{"x":65,"n":75,"s":"MW only, l = -80"},{"x":67,"n":71,"s":"MW only, l = -80"},{"x":69,"n":70,"s":"MW only, l = -80"},{"x":71,"n":70,"s":"MW only, l = -80"},{"x":73,"n":73,"s":"MW only, l = -80"},{"x":75,"n":75,"s":"MW only, l = -80"}
      ]},
      "layer": [
        {
          "mark": {"type": "line", "strokeWidth": 5, "strokeJoin": "round", "clip": true},
          "encoding": {
            "x": {"field": "x", "type": "quantitative",
              "scale": {"domain": [-75, 75], "nice": false, "zero": false},
              "axis": {"orient": "bottom", "title": "Galactic Latitude (deg)",
                "values": [-60,-45,-30,-15,0,15,30,45,60],
                "labelExpr": "datum.value % 30 === 0 ? datum.label : ''",
                "tickSize": {"condition": {"test": "datum.value % 30 === 0", "value": -20}, "value": -11},
                "labelPadding": 44, "titlePadding": -2}},
            "y": {"field": "n", "type": "quantitative",
              "scale": {"type": "log", "domain": [5.1, 590], "nice": false},
              "axis": {"orient": "left", "title": null, "labels": false,
                "values": [6,7,8,9,10,20,30,40,50,60,70,80,90,100,200,300,400,500],
                "tickSize": {"condition": {"test": "datum.value === 10 || datum.value === 100", "value": -20}, "value": -10}}},
            "color": {"field": "s", "type": "nominal",
              "scale": {"domain": ["MW only, l = +80", "MW only, l = -80", "MW + LMC, l = +80", "MW + LMC, l = -80"],
                        "range": ["#800080", "#4169E1", "#00FF00", "#FF8C00"]},
              "legend": {"orient": "none", "legendX": 43, "legendY": 480, "title": null}}
          }
        },
        {
          "mark": {"type": "point", "opacity": 0},
          "encoding": {
            "x": {"field": "x", "type": "quantitative",
              "axis": {"orient": "top", "title": null, "labels": false,
                "values": [-60,-45,-30,-15,0,15,30,45,60],
                "tickSize": {"condition": {"test": "datum.value % 30 === 0", "value": -20}, "value": -11}}},
            "y": {"field": "n", "type": "quantitative",
              "axis": {"orient": "right", "title": null, "labels": false,
                "values": [6,7,8,9,10,20,30,40,50,60,70,80,90,100,200,300,400,500],
                "tickSize": {"condition": {"test": "datum.value === 10 || datum.value === 100", "value": -20}, "value": -10}}}
          }
        }
      ],
      "resolve": {"axis": {"x": "independent", "y": "independent"}}
    }
  ]
}
